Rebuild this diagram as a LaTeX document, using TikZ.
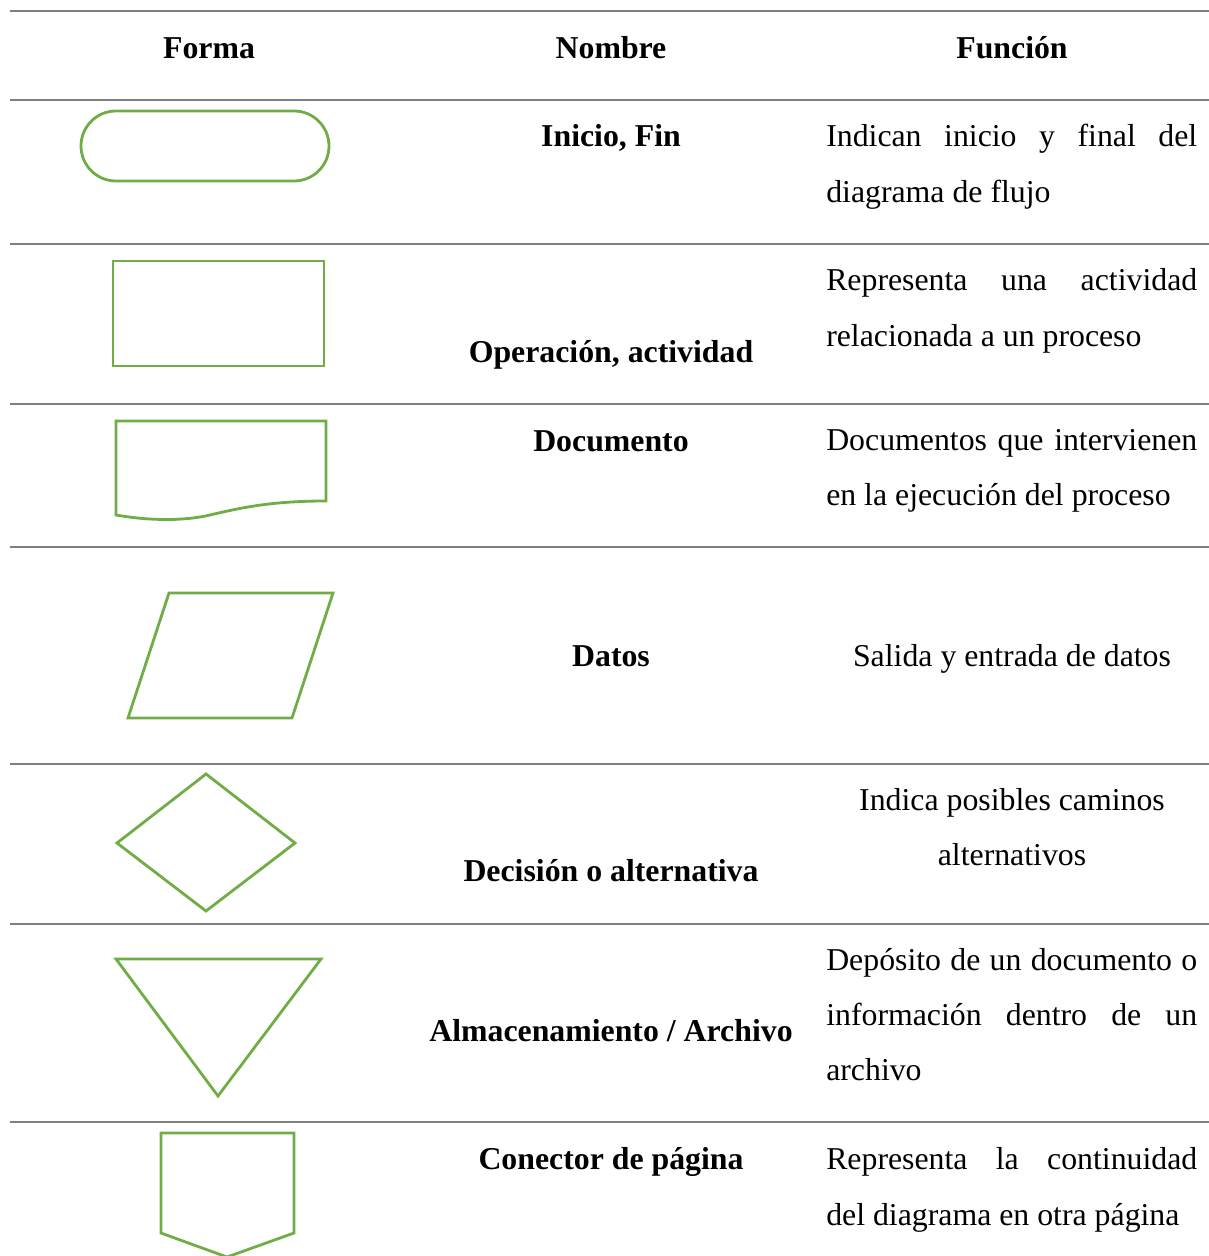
\documentclass[tikz,border=0pt]{standalone}
\usepackage{fontspec}
\setmainfont{Liberation Serif}
\definecolor{rulegray}{HTML}{808080}
\definecolor{shapegreen}{HTML}{70AD47}
% one full-width justified line of the "Función" column
\newcommand{\jline}[1]{\makebox[278.25pt][s]{#1}}
\begin{document}
\begin{tikzpicture}[x=0.75pt,y=-0.75pt,
  rule/.style={draw=rulegray,line width=1.6pt},
  symbol/.style={draw=shapegreen,line width=2.1pt,line join=miter},
  txt/.style={inner sep=0pt,anchor=base,font=\fontsize{23.85}{28}\selectfont},
  headtxt/.style={txt,font=\fontsize{23.85}{28}\selectfont\bfseries},
  nametxt/.style={headtxt},
  fleft/.style={txt,anchor=base west},
]
\useasboundingbox (0,0) rectangle (1209,1256);

% horizontal rules of the table
\foreach \yy in {11,100,244,404,547,764,924,1122}
  \draw[rule] (10,\yy) -- (1209,\yy);

% header
\node[headtxt] (hforma)  at (209,59) {Forma};
\node[headtxt] (hnombre) at (611,59) {Nombre};
\node[headtxt] (hfuncion) at (1012,59) {Función};

% row 1: terminal
\draw[symbol,rounded corners=26.25pt] (81,111) rectangle (329,181);
\node[nametxt] (n1) at (611,146) {Inicio, Fin};
\node[fleft] (f1a) at (826,146) {\jline{Indican inicio y final del}};
\node[fleft] (f1b) at (826,202) {diagrama de flujo};

% row 2: process
\draw[symbol] (113,261) rectangle (324,366);
\node[nametxt] (n2) at (611,362) {Operación, actividad};
\node[fleft] (f2a) at (826,290) {\jline{Representa una actividad}};
\node[fleft] (f2b) at (826,346) {relacionada a un proceso};

% row 3: document
\draw[symbol] (116,515) -- (116,421) -- (326,421) -- (326,501)
  .. controls (270,501) and (240,508) .. (210,515)
  .. controls (185,521) and (150,521) .. (116,515) -- cycle;
\node[nametxt] (n3) at (611,451) {Documento};
\node[fleft] (f3a) at (826,450) {\jline{Documentos que intervienen}};
\node[fleft] (f3b) at (826,505) {en la ejecución del proceso};

% row 4: data
\draw[symbol] (169,593) -- (333,593) -- (292,718) -- (128,718) -- cycle;
\node[nametxt] (n4) at (611,666) {Datos};
\node[txt] (f4) at (1012,666) {Salida y entrada de datos};

% row 5: decision
\draw[symbol] (206,774) -- (295,843) -- (206,911) -- (117,843) -- cycle;
\node[nametxt] (n5) at (611,881) {Decisión o alternativa};
\node[txt] (f5a) at (1012,810) {Indica posibles caminos};
\node[txt] (f5b) at (1012,865) {alternativos};

% row 6: storage
\draw[symbol] (116,959) -- (321,959) -- (218,1096) -- cycle;
\node[nametxt] (n6) at (611,1041) {Almacenamiento / Archivo};
\node[fleft] (f6a) at (826,970) {\jline{Depósito de un documento o}};
\node[fleft] (f6b) at (826,1025) {\jline{información dentro de un}};
\node[fleft] (f6c) at (826,1080) {archivo};

% row 7: off-page connector
\draw[symbol] (161,1133) -- (294,1133) -- (294,1233) -- (227,1257) -- (161,1233) -- cycle;
\node[nametxt] (n7) at (611,1169) {Conector de página};
\node[fleft] (f7a) at (826,1169) {\jline{Representa la continuidad}};
\node[fleft] (f7b) at (826,1225) {del diagrama en otra página};
\end{tikzpicture}
\end{document}
